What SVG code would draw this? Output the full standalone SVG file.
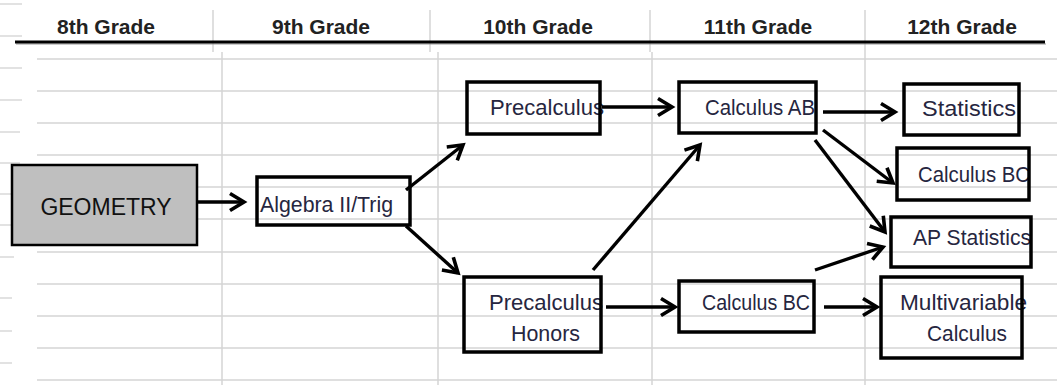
<svg xmlns="http://www.w3.org/2000/svg" width="1057" height="385" viewBox="0 0 1057 385">
<style>
.grid{stroke:#d4d4d4;stroke-width:1.5;fill:none}
.tick{stroke:#d8d8d8;stroke-width:1.5}
.hdr{font-family:"Liberation Sans",Arial,sans-serif;font-weight:bold;font-size:21px;fill:#222;text-anchor:middle}
.lbl{font-family:"Liberation Sans",Arial,sans-serif;font-size:21.5px;fill:#262640}
.box{fill:none;stroke:#000;stroke-width:3.5}
.geo{fill:#bfbfbf;stroke:#000;stroke-width:2.5}
.geotxt{font-family:"Liberation Sans",Arial,sans-serif;font-size:23px;fill:#111;text-anchor:middle}
.conn{stroke:#000;stroke-width:3.4;fill:none;marker-end:url(#arr)}
</style>
<defs>
<marker id="arr" markerUnits="userSpaceOnUse" markerWidth="22" markerHeight="22" viewBox="-18 -11 22 22" refX="0" refY="0" orient="auto">
<path d="M-14,-8.5 L0,0 L-14,8.5" fill="none" stroke="#000" stroke-width="3.6" stroke-linejoin="miter"/>
</marker>
</defs>
<rect width="1057" height="385" fill="#fff"/>
<g id="grid">
<line class="tick" x1="0" y1="4" x2="22" y2="4"/>
<line class="tick" x1="0" y1="36" x2="22" y2="36"/>
<line class="tick" x1="0" y1="68" x2="22" y2="68"/>
<line class="tick" x1="0" y1="100" x2="22" y2="100"/>
<line class="tick" x1="0" y1="132" x2="20" y2="132"/>
<line class="tick" x1="0" y1="163" x2="20" y2="163"/>
<line class="tick" x1="0" y1="194" x2="18" y2="194"/>
<line class="tick" x1="0" y1="225" x2="16" y2="225"/>
<line class="tick" x1="0" y1="257" x2="14" y2="257"/>
<line class="tick" x1="0" y1="298" x2="12" y2="298"/>
<line class="tick" x1="0" y1="331" x2="12" y2="331"/>
<line class="tick" x1="0" y1="363" x2="12" y2="363"/>
<line class="grid" x1="213" y1="10" x2="213" y2="52"/>
<line class="grid" x1="430" y1="10" x2="430" y2="52"/>
<line class="grid" x1="650" y1="10" x2="650" y2="52"/>
<line class="grid" x1="865" y1="10" x2="865" y2="52"/>
<line class="grid" x1="222" y1="52" x2="222" y2="385"/>
<line class="grid" x1="438" y1="52" x2="438" y2="385"/>
<line class="grid" x1="652" y1="52" x2="652" y2="385"/>
<line class="grid" x1="865" y1="52" x2="865" y2="385"/>
<line class="grid" x1="37" y1="59" x2="1057" y2="59"/>
<line class="grid" x1="37" y1="91" x2="1057" y2="91"/>
<line class="grid" x1="37" y1="123" x2="1057" y2="123"/>
<line class="grid" x1="37" y1="155" x2="1057" y2="155"/>
<line class="grid" x1="37" y1="187" x2="1057" y2="187"/>
<line class="grid" x1="37" y1="219" x2="1057" y2="219"/>
<line class="grid" x1="37" y1="252" x2="1057" y2="252"/>
<line class="grid" x1="37" y1="284" x2="1057" y2="284"/>
<line class="grid" x1="37" y1="316" x2="1057" y2="316"/>
<line class="grid" x1="37" y1="348" x2="1057" y2="348"/>
<line class="grid" x1="37" y1="380" x2="1057" y2="380"/>
</g>
<g id="header">
<text class="hdr" x="106" y="34">8th Grade</text>
<text class="hdr" x="321" y="34">9th Grade</text>
<text class="hdr" x="538" y="34">10th Grade</text>
<text class="hdr" x="758" y="34">11th Grade</text>
<text class="hdr" x="962" y="34">12th Grade</text>
<line x1="16" y1="44" x2="1046" y2="44" stroke="#999" stroke-width="2" opacity="0.5"/>
<line x1="15" y1="42" x2="1045" y2="42" stroke="#000" stroke-width="3"/>
</g>
<g id="n-geometry">
<rect class="geo" x="12" y="165" width="185" height="80"/>
<text class="geotxt" x="106" y="215">GEOMETRY</text>
</g>
<g id="n-algebra">
<text class="lbl" x="260" y="212" textLength="133" lengthAdjust="spacingAndGlyphs">Algebra II/Trig</text>
<rect class="box" x="257" y="177" width="153" height="48"/>
</g>
<g id="n-precalc">
<text class="lbl" x="490" y="115" textLength="114" lengthAdjust="spacingAndGlyphs">Precalculus</text>
<rect class="box" x="467" y="82" width="133" height="52"/>
</g>
<g id="n-precalc-honors">
<text class="lbl" x="489" y="310" textLength="114" lengthAdjust="spacingAndGlyphs">Precalculus</text>
<text class="lbl" x="511" y="341" textLength="69" lengthAdjust="spacingAndGlyphs">Honors</text>
<rect class="box" x="464" y="277" width="137" height="75"/>
</g>
<g id="n-calc-ab">
<text class="lbl" x="705" y="115" textLength="110" lengthAdjust="spacingAndGlyphs">Calculus AB</text>
<rect class="box" x="679" y="82" width="137" height="51"/>
</g>
<g id="n-calc-bc-11">
<text class="lbl" x="702" y="310" textLength="108" lengthAdjust="spacingAndGlyphs">Calculus BC</text>
<rect class="box" x="679" y="281" width="135" height="51"/>
</g>
<g id="n-statistics">
<text class="lbl" x="922" y="116" textLength="94" lengthAdjust="spacingAndGlyphs">Statistics</text>
<rect class="box" x="904" y="84" width="115" height="51"/>
</g>
<g id="n-calc-bc-12">
<text class="lbl" x="918" y="182" textLength="112" lengthAdjust="spacingAndGlyphs">Calculus BC</text>
<rect class="box" x="897" y="148" width="132" height="52"/>
</g>
<g id="n-ap-stat">
<text class="lbl" x="913" y="245" textLength="118" lengthAdjust="spacingAndGlyphs">AP Statistics</text>
<rect class="box" x="891" y="217" width="140" height="50"/>
</g>
<g id="n-multivariable">
<text class="lbl" x="900" y="310" textLength="127" lengthAdjust="spacingAndGlyphs">Multivariable</text>
<text class="lbl" x="927" y="341" textLength="80" lengthAdjust="spacingAndGlyphs">Calculus</text>
<rect class="box" x="881" y="277" width="141" height="81"/>
</g>
<g id="connectors">
<line class="conn" x1="197" y1="202" x2="244" y2="202"/>
<line class="conn" x1="406" y1="190" x2="463" y2="145"/>
<line class="conn" x1="406" y1="226" x2="458" y2="273"/>
<line class="conn" x1="602" y1="107" x2="672" y2="107"/>
<line class="conn" x1="593" y1="270" x2="700" y2="145"/>
<line class="conn" x1="606" y1="307" x2="675" y2="307"/>
<line class="conn" x1="823" y1="112" x2="895" y2="112"/>
<line class="conn" x1="823" y1="130" x2="893" y2="183"/>
<line class="conn" x1="815" y1="140" x2="885" y2="232"/>
<line class="conn" x1="815" y1="270" x2="883" y2="247"/>
<line class="conn" x1="824" y1="307" x2="877" y2="307"/>
</g>
</svg>
